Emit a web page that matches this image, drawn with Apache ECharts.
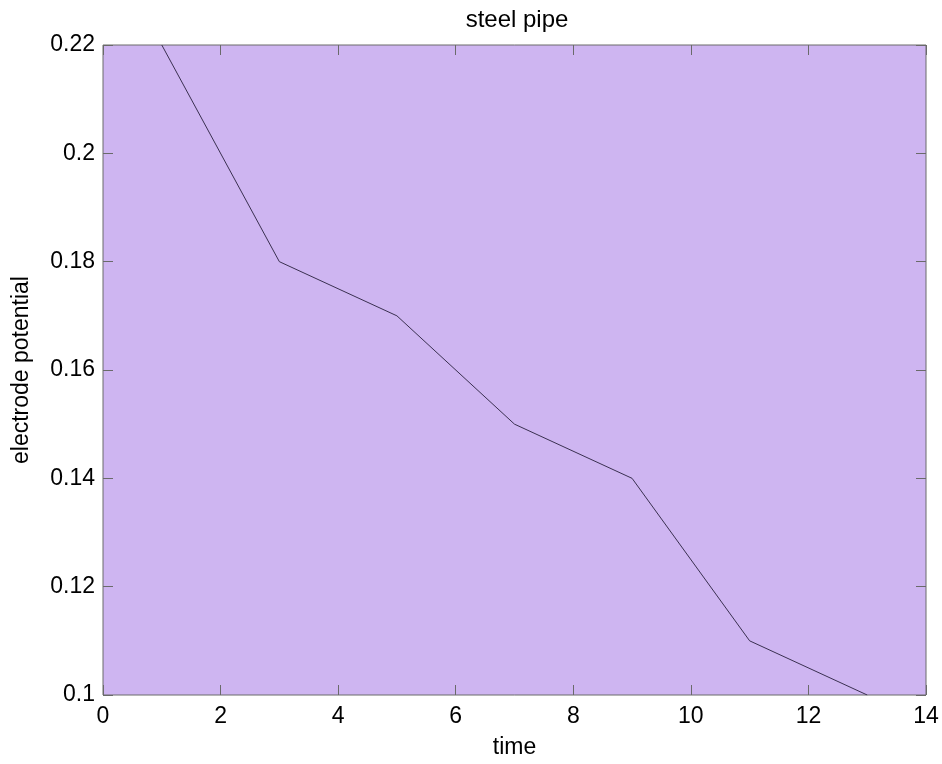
<!DOCTYPE html>
<html>
<head>
<meta charset="utf-8">
<script src="https://cdn.jsdelivr.net/npm/echarts@6/dist/echarts.min.js"></script>
<style>
html,body{margin:0;padding:0;background:#fff;}
#chart{width:942px;height:764px;}
</style>
</head>
<body>
<div id="chart"></div>
<script>
const timeValues = [1, 3, 5, 7, 9, 11, 13];
const potentialValues = [0.22, 0.18, 0.17, 0.15, 0.14, 0.11, 0.10];
const xTicks = [0, 2, 4, 6, 8, 10, 12, 14];
const yTicks = [0.1, 0.12, 0.14, 0.16, 0.18, 0.2, 0.22];

const seriesData = timeValues.map((t, i) => [t, potentialValues[i]]);
const font = 'Liberation Sans, Arial, sans-serif';
const frame = '#6a6a6a';

const chart = echarts.init(document.getElementById('chart'), null, {renderer: 'canvas'});
const baseX = {
  type: 'value', min: xTicks[0], max: xTicks[xTicks.length - 1], interval: 2,
  axisLine: {show: false, onZero: false},
  axisTick: {show: true, inside: true, length: 10, lineStyle: {color: frame, width: 1}},
  splitLine: {show: false}
};
const baseY = {
  type: 'value', min: yTicks[0], max: yTicks[yTicks.length - 1], interval: 0.02,
  axisLine: {show: false, onZero: false},
  axisTick: {show: true, inside: true, length: 10, lineStyle: {color: frame, width: 1}},
  splitLine: {show: false}
};
chart.setOption({
  animation: false,
  backgroundColor: '#ffffff',
  title: {
    text: 'steel pipe', left: 512, top: 3, textAlign: 'center',
    textStyle: {fontFamily: font, fontSize: 24, fontWeight: 'normal', color: '#000'}
  },
  grid: {
    left: 103, right: 16, top: 45, bottom: 67,
    show: true, backgroundColor: '#ceb5f1', borderColor: frame, borderWidth: 1,
    containLabel: false
  },
  xAxis: [
    Object.assign({}, baseX, {
      position: 'bottom',
      name: 'time', nameLocation: 'middle', nameGap: 41,
      nameTextStyle: {fontFamily: font, fontSize: 23, color: '#000'},
      axisLabel: {show: true, margin: 10, fontFamily: font, fontSize: 23, color: '#000',
        formatter: v => String(v)}
    }),
    Object.assign({}, baseX, {position: 'top', axisLabel: {show: false}})
  ],
  yAxis: [
    Object.assign({}, baseY, {
      position: 'left',
      name: 'electrode potential', nameLocation: 'middle', nameGap: 70,
      nameTextStyle: {fontFamily: font, fontSize: 23, color: '#000'},
      axisLabel: {show: true, margin: 8, fontFamily: font, fontSize: 23, color: '#000',
        formatter: v => String(+v.toFixed(2))}
    }),
    Object.assign({}, baseY, {position: 'right', axisLabel: {show: false}})
  ],
  series: [{
    type: 'line', data: seriesData, xAxisIndex: 0, yAxisIndex: 0,
    showSymbol: false, symbol: 'none',
    lineStyle: {color: '#3a3050', width: 1}
  }]
});
</script>
</body>
</html>
